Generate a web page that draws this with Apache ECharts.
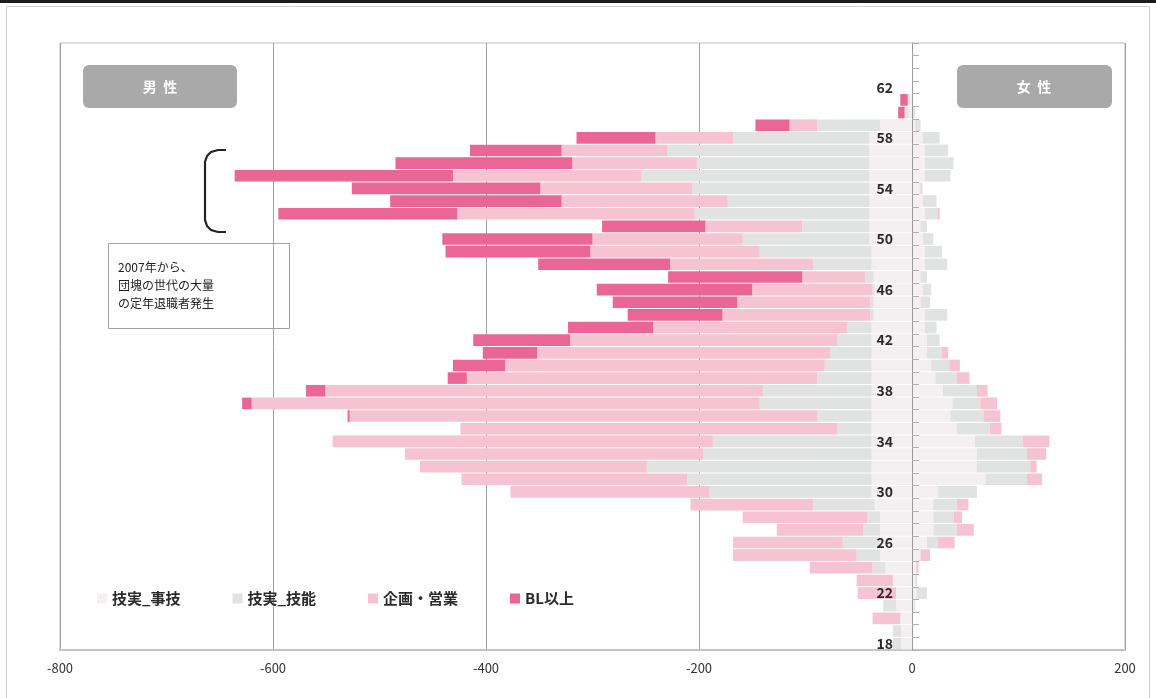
<!DOCTYPE html>
<html>
<head>
<meta charset="utf-8">
<script src="https://cdn.jsdelivr.net/npm/echarts@6/dist/echarts.min.js"></script>
<style>
  html, body { margin: 0; padding: 0; background: #fff; }
  #chart { width: 1156px; height: 698px; }
</style>
</head>
<body>
<div id="chart"></div>
<script>
// Age categories (bottom to top)
const ages = ['18','19','20','21','22','23','24','25','26','27','28','29','30','31','32','33',
  '34','35','36','37','38','39','40','41','42','43','44','45','46','47','48','49','50','51',
  '52','53','54','55','56','57','58','59','60','61','62','63','64','65'];

const seriesNames = ['技実_事技', '技実_技能', '企画・営業', 'BL以上'];

// Male headcount by age (drawn to the left of zero)
const maleJigi   = [10,10,11,15,15,18,25,30,30,30,30,35,38,38,38,38,38,38,38,38,38,38,38,38,38,38,36,36,35,36,38,38,40,40,40,40,40,40,40,40,40,30,3,2,0,0,0,0];
const maleGino   = [8,8,0,12,0,0,12,22,35,16,12,58,152,173,211,158,149,32,51,105,102,51,44,39,32,23,3,3,2,8,55,105,119,63,164,133,166,214,162,190,128,59,4,2,0,0,0,0];
const maleKikaku = [0,0,26,0,36,34,59,116,103,81,117,115,187,212,213,280,357,354,439,477,411,329,300,275,251,182,139,125,113,59,134,159,141,91,223,156,143,177,117,99,73,26,0,0,0,0,0,0];
const maleBL     = [0,0,0,0,0,0,0,0,0,0,0,0,0,0,0,0,0,0,2,9,18,18,49,51,91,80,89,117,146,126,124,136,141,97,168,161,177,205,166,86,74,32,6,7,0,0,0,0];

// Female headcount by age (drawn to the right of zero)
const femaleJigi   = [0,0,1,2,4,3,4,8,14,20,20,20,24,69,61,61,59,42,36,38,29,22,18,14,14,12,12,8,10,8,12,12,10,8,12,10,7,12,12,12,10,3,0,0,0,0,0,0];
const femaleGino   = [0,0,0,1,10,2,0,0,10,22,19,22,37,39,50,47,45,31,31,26,32,20,17,14,12,11,21,9,8,6,21,16,10,6,12,13,3,24,27,22,16,5,3,0,0,0,0,0];
const femaleKikaku = [0,0,0,0,0,0,2,9,16,16,8,11,0,14,6,18,25,11,16,16,10,12,10,6,0,0,0,0,0,0,0,0,0,0,2,0,0,0,0,0,0,0,0,0,0,0,0,0];
const femaleBL     = [0,0,0,0,0,0,0,0,0,0,0,0,0,0,0,0,0,0,0,0,0,0,0,0,0,0,0,0,0,0,0,0,0,0,0,0,0,0,0,0,0,0,0,0,0,0,0,0];

const xTicks = { min: -800, max: 200, step: 200 };

const colors = ['#f4eff1', '#e1e3e3', '#f6c3d3', '#ea6795'];
const FONT = '"Noto Sans CJK JP", "Noto Sans", sans-serif';

const GRID = { left: 60, right: 31, top: 43, bottom: 48 };
const CHART_W = 1156;
// the age axis sits on the zero line: shift it right from the grid's left edge
const plotW = CHART_W - GRID.left - GRID.right;
const zeroOffset = -plotW * (0 - xTicks.min) / (xTicks.max - xTicks.min);

const maleSets = [maleJigi, maleGino, maleKikaku, maleBL];
const femaleSets = [femaleJigi, femaleGino, femaleKikaku, femaleBL];

function barSeries(name, values, color, sign) {
  return {
    name: name,
    type: 'bar',
    stack: 'pyramid',
    barCategoryGap: '8%',
    data: values.map(v => sign * v),
    itemStyle: { color: color },
    emphasis: { disabled: true },
    z: 2
  };
}

const series = [];
seriesNames.forEach((n, i) => series.push(barSeries(n, maleSets[i], colors[i], -1)));
seriesNames.forEach((n, i) => series.push(barSeries(n, femaleSets[i], colors[i], 1)));

const chart = echarts.init(document.getElementById('chart'), null, { renderer: 'canvas' });

chart.setOption({
  animation: false,
  backgroundColor: '#ffffff',
  textStyle: { fontFamily: FONT },
  grid: {
    left: GRID.left, right: GRID.right, top: GRID.top, bottom: GRID.bottom,
    show: true, borderColor: '#bdbdbd', borderWidth: 1
  },
  legend: {
    data: seriesNames,
    left: 92, top: 586,
    icon: 'rect',
    itemWidth: 10, itemHeight: 10, itemGap: 52,
    textStyle: { fontFamily: FONT, fontSize: 15, fontWeight: 'bold', color: '#2a2a2a' },
    selectedMode: false
  },
  xAxis: {
    type: 'value',
    min: xTicks.min, max: xTicks.max, interval: xTicks.step,
    axisLine: { show: true, lineStyle: { color: '#c4c4c4', width: 2 } },
    axisTick: { show: false },
    axisLabel: { color: '#333', fontSize: 13, margin: 12, fontFamily: FONT },
    splitLine: { show: true, lineStyle: { color: '#a0a0a0', width: 1 } }
  },
  yAxis: {
    type: 'category',
    data: ages,
    z: 5,
    position: 'left',
    offset: zeroOffset,
    axisLine: { show: true, onZero: false, lineStyle: { color: '#9a9a9a', width: 1 } },
    axisTick: { show: true, inside: true, length: 7, interval: 0, lineStyle: { color: '#b0b0b0' } },
    axisLabel: { interval: 3, color: '#2b2b2b', fontSize: 14, fontWeight: 'bold', margin: 19, fontFamily: FONT },
    splitLine: { show: false }
  },
  series: series,
  graphic: [
    { type: 'rect', silent: true, z: 100, shape: { x: 0, y: 0, width: 1156, height: 3 }, style: { fill: '#1c1c1c' } },
    { type: 'rect', silent: true, z: 100, shape: { x: 6.5, y: 6.5, width: 1143, height: 700 }, style: { fill: 'none', stroke: '#cfcfcf', lineWidth: 1 } },
    {
      type: 'group', z: 100,
      children: [
        { type: 'rect', shape: { x: 83, y: 65, width: 154, height: 43, r: 6 }, style: { fill: '#a9a9a9' } },
        { type: 'text', style: { x: 160, y: 87, text: '男  性', fill: '#ffffff', font: 'bold 14px ' + FONT, align: 'center', verticalAlign: 'middle' } },
        { type: 'rect', shape: { x: 957, y: 65, width: 155, height: 43, r: 6 }, style: { fill: '#a9a9a9' } },
        { type: 'text', style: { x: 1034, y: 87, text: '女  性', fill: '#ffffff', font: 'bold 14px ' + FONT, align: 'center', verticalAlign: 'middle' } }
      ]
    },
    {
      type: 'polyline', silent: true, z: 100,
      shape: { points: [[226,150],[218,150],[211,152],[207,156],[205,162],[205,220],[207,226],[211,230],[218,232],[226,232]] },
      style: { fill: 'none', stroke: '#222', lineWidth: 2.2 }
    },
    {
      type: 'group', z: 100,
      children: [
        { type: 'rect', shape: { x: 108.5, y: 243.5, width: 181, height: 85 }, style: { fill: '#ffffff', stroke: '#a0a0a0', lineWidth: 1 } },
        { type: 'text', style: { x: 118, y: 267, text: '2007年から、', fill: '#222', font: '12px ' + FONT, verticalAlign: 'middle' } },
        { type: 'text', style: { x: 118, y: 285, text: '団塊の世代の大量', fill: '#222', font: '12px ' + FONT, verticalAlign: 'middle' } },
        { type: 'text', style: { x: 118, y: 303, text: 'の定年退職者発生', fill: '#222', font: '12px ' + FONT, verticalAlign: 'middle' } }
      ]
    }
  ]
});
</script>
</body>
</html>
